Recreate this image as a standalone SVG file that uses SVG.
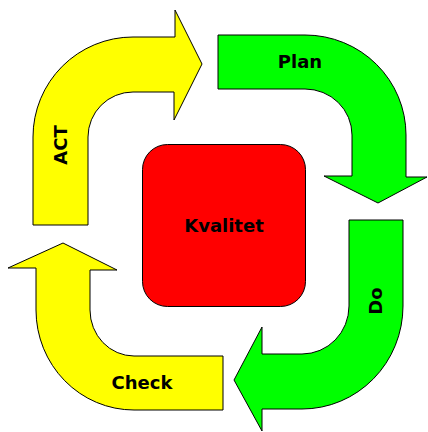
<svg xmlns="http://www.w3.org/2000/svg" width="428" height="432" viewBox="0 0 428 432">
<style>
.arrow{stroke:#000;stroke-width:1;stroke-linejoin:miter}
.y{fill:#ffff00}
.g{fill:#00ff00}
.lbl{font-family:"DejaVu Sans",Verdana,sans-serif;font-weight:bold;font-size:18px;fill:#000;text-anchor:middle}
</style>
<rect width="428" height="432" fill="#fff"/>
<g id="kvalitet">
<rect x="142.5" y="144.5" width="163" height="162" rx="25" ry="25" fill="#ff0000" stroke="#000" stroke-width="1"/>
<text class="lbl" x="224" y="232">Kvalitet</text>
</g>
<g id="connectors">
<g id="act">
<path class="arrow y" d="M33,225 L33,137 A100,100 0 0 1 133,37 L175,37 L175,10 L202,64 L174,120 L174,92 L133,92 A45,45 0 0 0 88,137 L88,225 Z"/>
<text class="lbl" transform="translate(67,145) rotate(-90)">ACT</text>
</g>
<g id="plan">
<path class="arrow g" d="M218,35 L305,35 A101,100 0 0 1 406,135 L406,177 L427,177 L378,203 L324,176 L352,176 L352,135 A47,46 0 0 0 305,89 L218,89 Z"/>
<text class="lbl" x="300" y="68">Plan</text>
</g>
<g id="do">
<path class="arrow g" d="M349,220 L403,220 L403,306 A101,103 0 0 1 302,409 L262,409 L262,431 L234,380 L262,327 L262,354 L302,354 A47,48 0 0 0 349,306 Z"/>
<text class="lbl" transform="translate(382,301) rotate(-90)">Do</text>
</g>
<g id="check">
<path class="arrow y" d="M223,356 L223,410 L134,410 A98,100 0 0 1 36,310 L36,268 L8,268 L63,243 L117,270 L90,270 L90,310 A44,46 0 0 0 134,356 Z"/>
<text class="lbl" x="142" y="389">Check</text>
</g>
</g>
</svg>
